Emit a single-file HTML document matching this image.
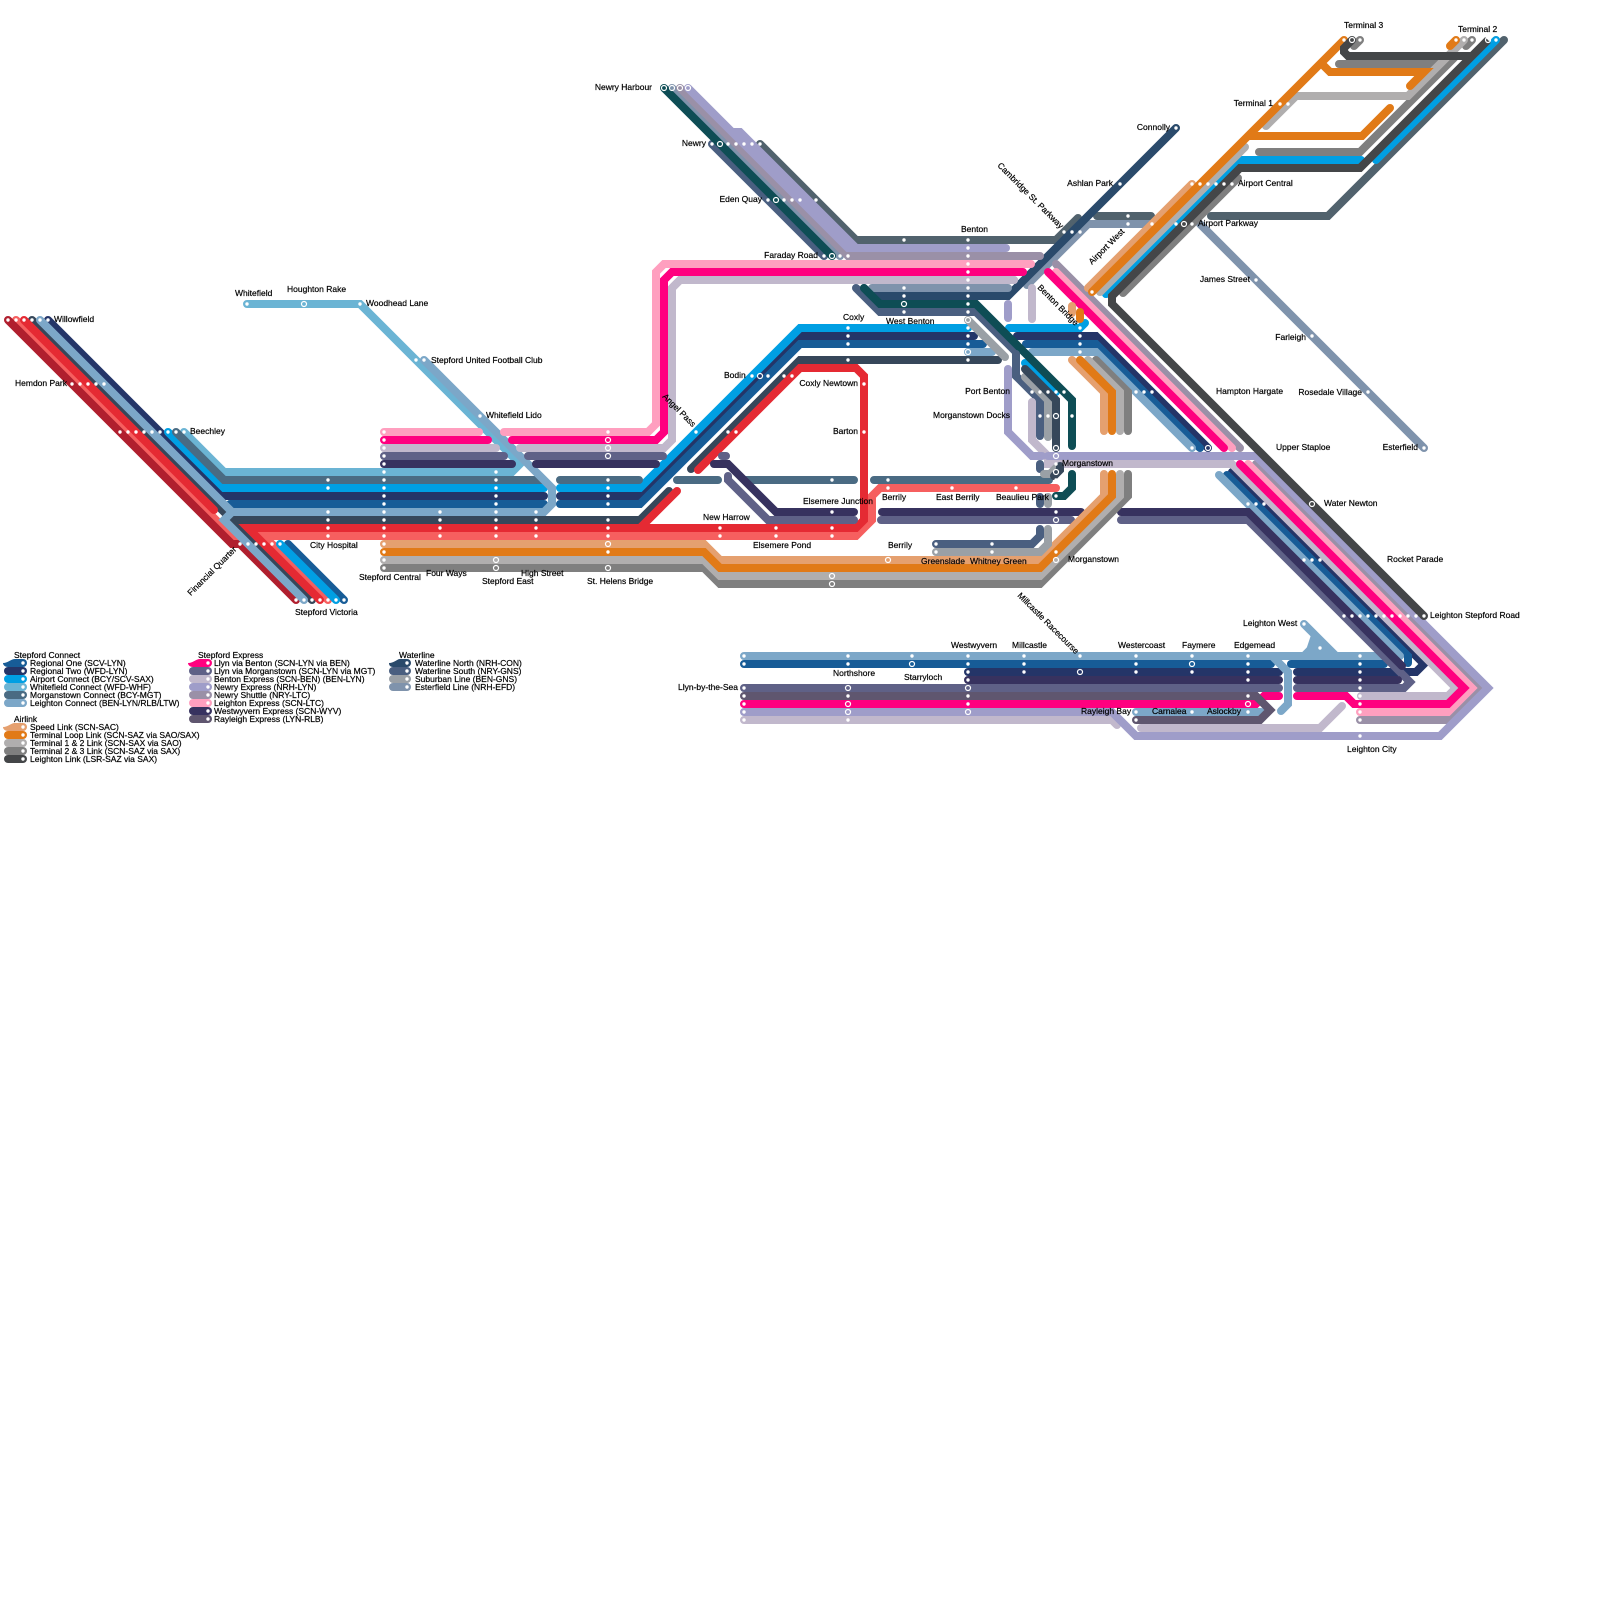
<!DOCTYPE html>
<html lang="en"><head><meta charset="utf-8"><title>Transit map</title>
<style>
html,body{margin:0;padding:0;background:#fff}
svg{display:block}
.l path{fill:none;stroke-width:8;stroke-linecap:round;stroke-linejoin:miter;stroke-miterlimit:4}
text{font-family:"Liberation Sans",sans-serif;font-size:8.5px;fill:#000;stroke:#000;stroke-width:.2}
</style></head><body>
<svg width="1600" height="1600" viewBox="0 0 1600 1600" xmlns="http://www.w3.org/2000/svg">
<rect width="1600" height="1600" fill="#fff"/>
<polygon points="1312,632 1336,656 1304,656" fill="#7ca7c8"/>
<g class="l">
<path stroke="#51626d" d="M760 144L856 240L1056 240L1078 218M1097 216L1151 216M1211 216L1328 216L1504 40"/>
<path stroke="#4a5f80" d="M712 144L824 256M856 288L880 312L976 312L1016 352L1016 376L1032 392L1040 400L1040 436M1040 464L1040 469M1040 497L1040 504M936 544L1032 544L1040 536L1040 529"/>
<path stroke="#7f93ac" d="M672 88L840 256M1027 285L1088 224L1152 224M1200 224L1424 448"/>
<path stroke="#2a4a6b" d="M864 288L872 296L1008 296L1176 128"/>
<path stroke="#7f93ac" d="M872 288L1008 288"/>
<path stroke="#0e4d55" d="M664 88L832 256"/>
<path stroke="#9a90a7" d="M680 88L848 256L1040 256"/>
<path stroke="#9f9dc9" d="M688 88L848 248L1006 248M732 132L740 132L856 248"/>
<path stroke="#f65f5f" d="M16 320L240 544M328 600L264 536L856 536L872 520L872 496L880 488L1056 488"/>
<path stroke="#36475a" d="M32 320L312 600M232 520L640 520L669 491M691 469L800 360L998 360"/>
<path stroke="#243568" d="M48 320L224 496L544 496M560 496L640 496L800 336L974 336M1017 336L1096 336L1208 448M1232 472L1424 664L1416 672L1297 672M1279 672L968 672"/>
<path stroke="#b01f2e" d="M8 320L232 544L240 544L296 600"/>
<path stroke="#e52a33" d="M24 320L214 510M320 600L248 528L856 528L864 520L864 376L856 368L800 368L698 470M677 491L640 528"/>
<path stroke="#175c97" d="M230 504L544 504M560 504L640 504L800 344L983 344M1026 344L1096 344L1200 448M1227 475L1408 656L1408 663M344 600L288 544M744 664L1271 664M1291 664L1384 664"/>
<path stroke="#009fe3" d="M168 432L224 488L544 488M560 488L640 488L800 328L968 328M1009 328L1080 328L1085 323M1025 363L1056 392M1106 294L1240 160L1361 160M1376 160L1496 40M336 600L280 544"/>
<path stroke="#6bb4d4" d="M247 304L360 304L520 464L512 472L224 472L184 432"/>
<path stroke="#4a6b83" d="M176 432L224 480L543 480M560 480L639 480M677 480L718 480M746 480L854 480M874 480L1049 480"/>
<path stroke="#7ca7c8" d="M40 320L232 512L224 520L304 600M424 360L544 480L552 488L552 504L544 512L232 512M968 352L992 352M1032 352L1096 352L1192 448M1219 475L1400 656M744 656L1384 656M1304 624L1336 656M1304 656L1320 640M1272 656L1288 672L1288 704L1281 711M1136 712L1261 712"/>
<path stroke="#c1b8cc" d="M384 448L496 448M520 448L664 448L672 440L672 288L680 280L1014 280M1032 288L1032 319M1032 402L1032 440L1048 456L1048 464L1232 464L1456 688L1448 696L1361 696M1342 706L1320 728L1141 728M1117 725L1112 720L744 720"/>
<path stroke="#5f6187" d="M384 456L504 456M528 456L663 456M722 456L726 456M728 476L728 480L768 520L854 520M881 520L1071 520M1121 520L1248 520L1410 682L1404 688L1297 688M1279 688L744 688"/>
<path stroke="#37325f" d="M384 464L512 464M536 464L656 464M714 464L728 464L776 512L854 512M882 512L1081 512M1121 512L1248 512L1402 666M1297 680L1398 680M1279 680L968 680"/>
<path stroke="#9a90a7" d="M1056 264L1240 448M1256 464L1480 688L1448 720L1360 720"/>
<path stroke="#9f9dc9" d="M1008 304L1008 318M1008 369L1008 432L1032 456L1042 456M1048 456L1256 456L1488 688L1440 736L1136 736L1112 712L744 712"/>
<path stroke="#ff9fbf" d="M384 432L479 432M504 432L648 432L656 424L656 272L664 264L1031 264M1056 272L1232 448M1248 464L1472 688L1448 712L1360 712"/>
<path stroke="#ff007f" d="M384 440L488 440M512 440L656 440L664 432L664 280L672 272L1023 272M1048 272L1224 448M1240 464L1464 688L1448 704L1354 704L1346 696L1297 696M1279 696L1264 696L1256 704L744 704"/>
<path stroke="#5f566f" d="M744 696L1256 696L1270 710L1260 720L1136 720"/>
<path stroke="#c1b8cc" d="M672 288L680 280L1014 280"/>
<path stroke="#e5a06f" d="M384 544L704 544L720 560L1040 560L1104 496L1104 474M1072 360L1104 392L1104 431M1072 306L1072 313M1088 288L1192 184"/>
<path stroke="#009fe3" d="M1106 294L1216 184"/>
<path stroke="#7f7f7f" d="M384 568L704 568L720 584L1040 584L1128 496L1128 474M1096 360L1128 392L1128 431M1123 293L1238 178M1259 152L1360 152L1448 64L1339 64M1360 40L1354 46M1472 40L1466 46"/>
<path stroke="#b0aeae" d="M384 560L704 560L720 576L1040 576L1120 496L1120 474M1088 360L1120 392L1120 431M1100 292L1245 147M1266 126L1296 96L1408 96L1464 40"/>
<path stroke="#e17a17" d="M384 552L704 552L720 568L1040 568L1112 496L1112 474M1080 360L1112 392L1112 431M1080 312L1080 319M1092 292L1344 40M1248 136L1362 136L1390 108M1410 86L1424 72L1330 72L1322 64M1456 40L1450 46"/>
<path stroke="#444648" d="M1352 40L1344 48L1344 52L1348 56L1472 56L1488 40L1360 168L1240 168L1112 296L1112 304L1424 616"/>
<path stroke="#9aa0a6" d="M968 320L1005 357M1025 377L1048 400L1048 437M1044 474L1050 474L1056 468M1048 497L1048 504M936 552L1040 552L1048 544L1048 529"/>
<path stroke="#36475a" d="M1025 369L1048 392L1056 400L1056 448M1060 466L1060 470L1054 476"/>
<path stroke="#0e4d55" d="M864 288L880 304L976 304L1064 392L1072 400L1072 446M1072 474L1072 488L1064 496L1056 496"/>
<path stroke="#4a5f80" d="M1016 354L1016 376"/>
</g>
<g fill="#fff">
<circle cx="8" cy="320" r="1.7"/><circle cx="16" cy="320" r="1.7"/><circle cx="24" cy="320" r="1.7"/><circle cx="32" cy="320" r="1.7"/><circle cx="40" cy="320" r="1.7"/><circle cx="48" cy="320" r="1.7"/>
<circle cx="72" cy="384" r="1.7"/><circle cx="80" cy="384" r="1.7"/><circle cx="88" cy="384" r="1.7"/><circle cx="96" cy="384" r="1.7"/><circle cx="104" cy="384" r="1.7"/>
<circle cx="120" cy="432" r="1.7"/><circle cx="128" cy="432" r="1.7"/><circle cx="136" cy="432" r="1.7"/><circle cx="144" cy="432" r="1.7"/><circle cx="152" cy="432" r="1.7"/><circle cx="160" cy="432" r="1.7"/><circle cx="168" cy="432" r="1.7"/><circle cx="176" cy="432" r="1.7"/><circle cx="184" cy="432" r="1.7"/>
<circle cx="240" cy="544" r="1.7"/><circle cx="248" cy="544" r="1.7"/><circle cx="256" cy="544" r="1.7"/><circle cx="264" cy="544" r="1.7"/><circle cx="272" cy="544" r="1.7"/><circle cx="280" cy="544" r="1.7"/>
<circle cx="296" cy="600" r="1.7"/><circle cx="304" cy="600" r="1.7"/><circle cx="312" cy="600" r="1.7"/><circle cx="320" cy="600" r="1.7"/><circle cx="328" cy="600" r="1.7"/><circle cx="336" cy="600" r="1.7"/><circle cx="344" cy="600" r="1.7"/>
<circle cx="247" cy="304" r="1.7"/><circle cx="360" cy="304" r="1.7"/><circle cx="416" cy="360" r="1.7"/><circle cx="424" cy="360" r="1.7"/><circle cx="480" cy="416" r="1.7"/>
<circle cx="328" cy="480" r="1.7"/><circle cx="328" cy="488" r="1.7"/><circle cx="328" cy="512" r="1.7"/><circle cx="328" cy="520" r="1.7"/><circle cx="328" cy="528" r="1.7"/><circle cx="328" cy="536" r="1.7"/>
<circle cx="384" cy="432" r="1.7"/><circle cx="384" cy="440" r="1.7"/><circle cx="384" cy="448" r="1.7"/><circle cx="384" cy="456" r="1.7"/><circle cx="384" cy="464" r="1.7"/><circle cx="384" cy="472" r="1.7"/><circle cx="384" cy="480" r="1.7"/><circle cx="384" cy="488" r="1.7"/><circle cx="384" cy="496" r="1.7"/><circle cx="384" cy="504" r="1.7"/><circle cx="384" cy="512" r="1.7"/><circle cx="384" cy="520" r="1.7"/><circle cx="384" cy="528" r="1.7"/><circle cx="384" cy="536" r="1.7"/><circle cx="384" cy="544" r="1.7"/><circle cx="384" cy="552" r="1.7"/><circle cx="384" cy="560" r="1.7"/><circle cx="384" cy="568" r="1.7"/>
<circle cx="440" cy="512" r="1.7"/><circle cx="440" cy="520" r="1.7"/><circle cx="440" cy="528" r="1.7"/><circle cx="440" cy="536" r="1.7"/>
<circle cx="536" cy="512" r="1.7"/><circle cx="536" cy="520" r="1.7"/><circle cx="536" cy="528" r="1.7"/><circle cx="536" cy="536" r="1.7"/>
<circle cx="496" cy="472" r="1.7"/><circle cx="496" cy="480" r="1.7"/><circle cx="496" cy="488" r="1.7"/><circle cx="496" cy="496" r="1.7"/><circle cx="496" cy="504" r="1.7"/><circle cx="496" cy="512" r="1.7"/><circle cx="496" cy="520" r="1.7"/><circle cx="496" cy="528" r="1.7"/><circle cx="496" cy="536" r="1.7"/>
<circle cx="608" cy="432" r="1.7"/><circle cx="608" cy="480" r="1.7"/><circle cx="608" cy="488" r="1.7"/><circle cx="608" cy="496" r="1.7"/><circle cx="608" cy="504" r="1.7"/><circle cx="608" cy="520" r="1.7"/><circle cx="608" cy="528" r="1.7"/><circle cx="608" cy="536" r="1.7"/><circle cx="608" cy="552" r="1.7"/>
<circle cx="696" cy="432" r="1.7"/><circle cx="728" cy="432" r="1.7"/><circle cx="736" cy="432" r="1.7"/>
<circle cx="752" cy="376" r="1.7"/><circle cx="768" cy="376" r="1.7"/><circle cx="784" cy="376" r="1.7"/><circle cx="792" cy="376" r="1.7"/>
<circle cx="712" cy="144" r="1.7"/><circle cx="728" cy="144" r="1.7"/><circle cx="736" cy="144" r="1.7"/><circle cx="744" cy="144" r="1.7"/><circle cx="752" cy="144" r="1.7"/><circle cx="760" cy="144" r="1.7"/>
<circle cx="768" cy="200" r="1.7"/><circle cx="784" cy="200" r="1.7"/><circle cx="792" cy="200" r="1.7"/><circle cx="800" cy="200" r="1.7"/><circle cx="816" cy="200" r="1.7"/>
<circle cx="824" cy="256" r="1.7"/><circle cx="840" cy="256" r="1.7"/><circle cx="848" cy="256" r="1.7"/>
<circle cx="968" cy="240" r="1.7"/><circle cx="968" cy="248" r="1.7"/><circle cx="968" cy="256" r="1.7"/><circle cx="968" cy="264" r="1.7"/><circle cx="968" cy="272" r="1.7"/><circle cx="968" cy="280" r="1.7"/><circle cx="968" cy="288" r="1.7"/><circle cx="968" cy="296" r="1.7"/><circle cx="968" cy="304" r="1.7"/><circle cx="968" cy="312" r="1.7"/><circle cx="968" cy="328" r="1.7"/><circle cx="968" cy="336" r="1.7"/><circle cx="968" cy="344" r="1.7"/><circle cx="968" cy="360" r="1.7"/>
<circle cx="904" cy="240" r="1.7"/><circle cx="904" cy="288" r="1.7"/><circle cx="904" cy="296" r="1.7"/><circle cx="904" cy="312" r="1.7"/>
<circle cx="848" cy="328" r="1.7"/><circle cx="848" cy="336" r="1.7"/><circle cx="848" cy="344" r="1.7"/><circle cx="848" cy="360" r="1.7"/>
<circle cx="1080" cy="328" r="1.7"/><circle cx="1080" cy="336" r="1.7"/><circle cx="1080" cy="344" r="1.7"/><circle cx="1080" cy="352" r="1.7"/>
<circle cx="1032" cy="392" r="1.7"/><circle cx="1040" cy="392" r="1.7"/><circle cx="1048" cy="392" r="1.7"/><circle cx="1056" cy="392" r="1.7"/><circle cx="1064" cy="392" r="1.7"/><circle cx="1136" cy="392" r="1.7"/><circle cx="1144" cy="392" r="1.7"/><circle cx="1152" cy="392" r="1.7"/>
<circle cx="1040" cy="416" r="1.7"/><circle cx="1048" cy="416" r="1.7"/><circle cx="1072" cy="416" r="1.7"/>
<circle cx="1056" cy="464" r="1.7"/><circle cx="1056" cy="480" r="1.7"/><circle cx="1056" cy="496" r="1.7"/><circle cx="1056" cy="512" r="1.7"/><circle cx="1056" cy="552" r="1.7"/>
<circle cx="1192" cy="448" r="1.7"/>
<circle cx="1248" cy="504" r="1.7"/><circle cx="1256" cy="504" r="1.7"/><circle cx="1264" cy="504" r="1.7"/>
<circle cx="1304" cy="560" r="1.7"/><circle cx="1312" cy="560" r="1.7"/><circle cx="1320" cy="560" r="1.7"/>
<circle cx="1344" cy="616" r="1.7"/><circle cx="1352" cy="616" r="1.7"/><circle cx="1360" cy="616" r="1.7"/><circle cx="1368" cy="616" r="1.7"/><circle cx="1376" cy="616" r="1.7"/><circle cx="1384" cy="616" r="1.7"/><circle cx="1392" cy="616" r="1.7"/><circle cx="1400" cy="616" r="1.7"/><circle cx="1408" cy="616" r="1.7"/><circle cx="1416" cy="616" r="1.7"/><circle cx="1424" cy="616" r="1.7"/>
<circle cx="1424" cy="448" r="1.7"/><circle cx="1368" cy="392" r="1.7"/><circle cx="1312" cy="336" r="1.7"/><circle cx="1256" cy="280" r="1.7"/><circle cx="1192" cy="224" r="1.7"/><circle cx="1176" cy="224" r="1.7"/><circle cx="1152" cy="224" r="1.7"/>
<circle cx="1192" cy="184" r="1.7"/><circle cx="1200" cy="184" r="1.7"/><circle cx="1208" cy="184" r="1.7"/><circle cx="1216" cy="184" r="1.7"/><circle cx="1224" cy="184" r="1.7"/><circle cx="1232" cy="184" r="1.7"/>
<circle cx="1120" cy="184" r="1.7"/><circle cx="1176" cy="128" r="1.7"/><circle cx="1128" cy="216" r="1.7"/><circle cx="1128" cy="224" r="1.7"/><circle cx="1064" cy="232" r="1.7"/><circle cx="1072" cy="232" r="1.7"/><circle cx="1080" cy="232" r="1.7"/>
<circle cx="1280" cy="104" r="1.7"/><circle cx="1288" cy="104" r="1.7"/><circle cx="1092" cy="292" r="1.7"/>
<circle cx="1344" cy="40" r="1.7"/><circle cx="1360" cy="40" r="1.7"/><circle cx="1456" cy="40" r="1.7"/><circle cx="1464" cy="40" r="1.7"/><circle cx="1472" cy="40" r="1.7"/><circle cx="1496" cy="40" r="1.7"/>
<circle cx="1304" cy="624" r="1.7"/><circle cx="1320" cy="648" r="1.7"/>
<circle cx="744" cy="656" r="1.7"/><circle cx="744" cy="664" r="1.7"/><circle cx="744" cy="688" r="1.7"/><circle cx="744" cy="696" r="1.7"/><circle cx="744" cy="704" r="1.7"/><circle cx="744" cy="712" r="1.7"/><circle cx="744" cy="720" r="1.7"/>
<circle cx="848" cy="656" r="1.7"/><circle cx="848" cy="664" r="1.7"/><circle cx="848" cy="696" r="1.7"/><circle cx="848" cy="720" r="1.7"/>
<circle cx="912" cy="656" r="1.7"/>
<circle cx="968" cy="656" r="1.7"/><circle cx="968" cy="664" r="1.7"/><circle cx="968" cy="672" r="1.7"/><circle cx="968" cy="680" r="1.7"/><circle cx="968" cy="696" r="1.7"/><circle cx="968" cy="704" r="1.7"/>
<circle cx="1024" cy="656" r="1.7"/><circle cx="1024" cy="664" r="1.7"/><circle cx="1024" cy="672" r="1.7"/>
<circle cx="1080" cy="656" r="1.7"/>
<circle cx="1136" cy="656" r="1.7"/><circle cx="1136" cy="664" r="1.7"/><circle cx="1136" cy="672" r="1.7"/>
<circle cx="1192" cy="656" r="1.7"/><circle cx="1192" cy="672" r="1.7"/>
<circle cx="1248" cy="656" r="1.7"/><circle cx="1248" cy="664" r="1.7"/><circle cx="1248" cy="672" r="1.7"/><circle cx="1248" cy="680" r="1.7"/><circle cx="1248" cy="696" r="1.7"/><circle cx="1248" cy="712" r="1.7"/>
<circle cx="1360" cy="656" r="1.7"/><circle cx="1360" cy="664" r="1.7"/><circle cx="1360" cy="672" r="1.7"/><circle cx="1360" cy="680" r="1.7"/><circle cx="1360" cy="688" r="1.7"/><circle cx="1360" cy="696" r="1.7"/><circle cx="1360" cy="704" r="1.7"/><circle cx="1360" cy="712" r="1.7"/><circle cx="1360" cy="720" r="1.7"/><circle cx="1360" cy="736" r="1.7"/>
<circle cx="1136" cy="712" r="1.7"/><circle cx="1136" cy="720" r="1.7"/><circle cx="1192" cy="712" r="1.7"/>
<circle cx="864" cy="384" r="1.7"/><circle cx="864" cy="432" r="1.7"/>
<circle cx="832" cy="480" r="1.7"/><circle cx="832" cy="512" r="1.7"/><circle cx="832" cy="528" r="1.7"/><circle cx="832" cy="536" r="1.7"/>
<circle cx="776" cy="528" r="1.7"/><circle cx="776" cy="536" r="1.7"/><circle cx="720" cy="528" r="1.7"/><circle cx="720" cy="536" r="1.7"/>
<circle cx="888" cy="480" r="1.7"/><circle cx="888" cy="488" r="1.7"/><circle cx="952" cy="488" r="1.7"/><circle cx="1016" cy="488" r="1.7"/>
<circle cx="936" cy="544" r="1.7"/><circle cx="936" cy="552" r="1.7"/><circle cx="992" cy="544" r="1.7"/><circle cx="992" cy="552" r="1.7"/>
</g>
<g fill="none" stroke="#fff" stroke-width="1.2">
<circle cx="304" cy="304" r="2.5"/><circle cx="760" cy="376" r="2.5"/>
<circle cx="496" cy="560" r="2.5"/><circle cx="496" cy="568" r="2.5"/>
<circle cx="608" cy="440" r="2.5"/><circle cx="608" cy="448" r="2.5"/><circle cx="608" cy="456" r="2.5"/><circle cx="608" cy="544" r="2.5"/><circle cx="608" cy="568" r="2.5"/>
<circle cx="664" cy="88" r="2.5"/><circle cx="672" cy="88" r="2.5"/><circle cx="680" cy="88" r="2.5"/><circle cx="688" cy="88" r="2.5"/>
<circle cx="720" cy="144" r="2.5"/><circle cx="776" cy="200" r="2.5"/><circle cx="832" cy="256" r="2.5"/>
<circle cx="904" cy="304" r="2.5"/><circle cx="968" cy="320" r="2.5"/><circle cx="968" cy="352" r="2.5"/>
<circle cx="1056" cy="416" r="2.5"/><circle cx="1056" cy="448" r="2.5"/><circle cx="1056" cy="456" r="2.5"/><circle cx="1056" cy="472" r="2.5"/><circle cx="1056" cy="520" r="2.5"/><circle cx="1056" cy="560" r="2.5"/>
<circle cx="1208" cy="448" r="2.5"/><circle cx="1312" cy="504" r="2.5"/><circle cx="1184" cy="224" r="2.5"/><circle cx="1352" cy="40" r="2.5"/><circle cx="1488" cy="40" r="2.5"/>
<circle cx="848" cy="688" r="2.5"/><circle cx="848" cy="704" r="2.5"/><circle cx="848" cy="712" r="2.5"/><circle cx="912" cy="664" r="2.5"/>
<circle cx="968" cy="688" r="2.5"/><circle cx="968" cy="712" r="2.5"/><circle cx="1080" cy="672" r="2.5"/><circle cx="1192" cy="664" r="2.5"/><circle cx="1248" cy="704" r="2.5"/>
<circle cx="888" cy="560" r="2.5"/><circle cx="832" cy="576" r="2.5"/><circle cx="832" cy="584" r="2.5"/>
</g>
<g>
<text x="235" y="296">Whitefield</text><text x="287" y="292">Houghton Rake</text><text x="366" y="306">Woodhead Lane</text>
<text x="54" y="322">Willowfield</text><text x="15" y="386">Hemdon Park</text><text x="190" y="434">Beechley</text>
<text x="310" y="548">City Hospital</text><text x="359" y="580">Stepford Central</text><text x="426" y="576">Four Ways</text><text x="482" y="584">Stepford East</text><text x="521" y="576">High Street</text><text x="587" y="584">St. Helens Bridge</text><text x="295" y="615">Stepford Victoria</text>
<text transform="translate(237 550) rotate(-45)" text-anchor="end">Financial Quarter</text>
<text x="431" y="363">Stepford United Football Club</text><text x="486" y="418">Whitefield Lido</text>
<text transform="translate(662 397) rotate(45)">Angel Pass</text>
<text x="652" y="90" text-anchor="end">Newry Harbour</text><text x="706" y="146" text-anchor="end">Newry</text><text x="762" y="202" text-anchor="end">Eden Quay</text><text x="818" y="258" text-anchor="end">Faraday Road</text>
<text x="961" y="232">Benton</text><text x="843" y="320">Coxly</text><text x="886" y="324">West Benton</text>
<text transform="translate(997 166) rotate(45)">Cambridge St. Parkway</text>
<text x="1113" y="186" text-anchor="end">Ashlan Park</text><text x="1170" y="130" text-anchor="end">Connolly</text>
<text transform="translate(1092 265) rotate(-45)">Airport West</text>
<text transform="translate(1037 288) rotate(45)">Benton Bridge</text>
<text x="1273" y="106" text-anchor="end">Terminal 1</text><text x="1344" y="28">Terminal 3</text><text x="1458" y="32">Terminal 2</text>
<text x="1238" y="186">Airport Central</text><text x="1198" y="226">Airport Parkway</text><text x="1250" y="282" text-anchor="end">James Street</text>
<text x="1306" y="340" text-anchor="end">Farleigh</text><text x="1362" y="395" text-anchor="end">Rosedale Village</text><text x="1418" y="450" text-anchor="end">Esterfield</text>
<text x="1216" y="394">Hampton Hargate</text><text x="1276" y="450">Upper Staploe</text><text x="1324" y="506">Water Newton</text><text x="1387" y="562">Rocket Parade</text><text x="1430" y="618">Leighton Stepford Road</text>
<text x="1243" y="626">Leighton West</text><text x="1234" y="648">Edgemead</text><text x="1182" y="648">Faymere</text><text x="1118" y="648">Westercoast</text><text x="1012" y="648">Millcastle</text><text x="951" y="648">Westwyvern</text>
<text x="833" y="676">Northshore</text><text x="904" y="680">Starryloch</text><text x="738" y="690" text-anchor="end">Llyn-by-the-Sea</text>
<text x="1081" y="714">Rayleigh Bay</text><text x="1152" y="714">Carnalea</text><text x="1207" y="714">Aslockby</text><text x="1347" y="752">Leighton City</text>
<text transform="translate(1017 596) rotate(45)">Millcastle Racecourse</text>
<text x="1062" y="466">Morganstown</text><text x="1068" y="562">Morganstown</text>
<text x="1010" y="394" text-anchor="end">Port Benton</text><text x="1010" y="418" text-anchor="end">Morganstown Docks</text>
<text x="858" y="386" text-anchor="end">Coxly Newtown</text><text x="858" y="434" text-anchor="end">Barton</text><text x="724" y="378">Bodin</text><text x="703" y="520">New Harrow</text><text x="803" y="504">Elsemere Junction</text><text x="753" y="548">Elsemere Pond</text>
<text x="882" y="500">Berrily</text><text x="936" y="500">East Berrily</text><text x="996" y="500">Beaulieu Park</text><text x="888" y="548">Berrily</text><text x="921" y="564">Greenslade</text><text x="970" y="564">Whitney Green</text>
</g>
<g class="l">
<path stroke="#175c97" d="M16 663L23 663"/><path stroke="#243568" d="M8 671L23 671"/><path stroke="#009fe3" d="M8 679L23 679"/><path stroke="#6bb4d4" d="M8 687L23 687"/><path stroke="#4a6b83" d="M8 695L23 695"/><path stroke="#7ca7c8" d="M8 703L23 703"/>
<path stroke="#e5a06f" d="M16 727L23 727"/><path stroke="#e17a17" d="M8 735L23 735"/><path stroke="#b0aeae" d="M8 743L23 743"/><path stroke="#7f7f7f" d="M8 751L23 751"/><path stroke="#444648" d="M8 759L23 759"/>
<path stroke="#ff007f" d="M201 663L208 663"/><path stroke="#5f6187" d="M193 671L208 671"/><path stroke="#c1b8cc" d="M193 679L208 679"/><path stroke="#9f9dc9" d="M193 687L208 687"/><path stroke="#9a90a7" d="M193 695L208 695"/><path stroke="#ff9fbf" d="M193 703L208 703"/><path stroke="#37325f" d="M193 711L208 711"/><path stroke="#5f566f" d="M193 719L208 719"/>
<path stroke="#2a4a6b" d="M400 663L407 663"/><path stroke="#4a5f80" d="M393 671L407 671"/><path stroke="#9aa0a6" d="M393 679L407 679"/><path stroke="#7f93ac" d="M393 687L407 687"/>
</g>
<path fill="#175c97" d="M3 663C8 663 11 659 15 659L20 659L20 667L8 667C5 667 3 665 3 663Z"/>
<path fill="#e5a06f" d="M3 727C8 727 11 723 15 723L20 723L20 731L8 731C5 731 3 729 3 727Z"/>
<path fill="#ff007f" d="M188 663C193 663 196 659 200 659L205 659L205 667L193 667C190 667 188 665 188 663Z"/>
<path fill="#2a4a6b" d="M389 663C394 663 397 659 401 659L405 659L405 667L393 667C390 667 389 665 389 663Z"/>
<g fill="#fff">
<circle cx="23" cy="663" r="1.7"/><circle cx="23" cy="671" r="1.7"/><circle cx="23" cy="679" r="1.7"/><circle cx="23" cy="687" r="1.7"/><circle cx="23" cy="695" r="1.7"/><circle cx="23" cy="703" r="1.7"/>
<circle cx="23" cy="727" r="1.7"/><circle cx="23" cy="735" r="1.7"/><circle cx="23" cy="743" r="1.7"/><circle cx="23" cy="751" r="1.7"/><circle cx="23" cy="759" r="1.7"/>
<circle cx="208" cy="663" r="1.7"/><circle cx="208" cy="671" r="1.7"/><circle cx="208" cy="679" r="1.7"/><circle cx="208" cy="687" r="1.7"/><circle cx="208" cy="695" r="1.7"/><circle cx="208" cy="703" r="1.7"/><circle cx="208" cy="711" r="1.7"/><circle cx="208" cy="719" r="1.7"/>
<circle cx="407" cy="663" r="1.7"/><circle cx="407" cy="671" r="1.7"/><circle cx="407" cy="679" r="1.7"/><circle cx="407" cy="687" r="1.7"/>
</g>
<g>
<text x="14" y="658">Stepford Connect</text>
<text x="30" y="666">Regional One (SCV-LYN)</text><text x="30" y="674">Regional Two (WFD-LYN)</text><text x="30" y="682">Airport Connect (BCY/SCV-SAX)</text><text x="30" y="690">Whitefield Connect (WFD-WHF)</text><text x="30" y="698">Morganstown Connect (BCY-MGT)</text><text x="30" y="706">Leighton Connect (BEN-LYN/RLB/LTW)</text>
<text x="14" y="722">Airlink</text>
<text x="30" y="730">Speed Link (SCN-SAC)</text><text x="30" y="738">Terminal Loop Link (SCN-SAZ via SAO/SAX)</text><text x="30" y="746">Terminal 1 &amp; 2 Link (SCN-SAX via SAO)</text><text x="30" y="754">Terminal 2 &amp; 3 Link (SCN-SAZ via SAX)</text><text x="30" y="762">Leighton Link (LSR-SAZ via SAX)</text>
<text x="198" y="658">Stepford Express</text>
<text x="214" y="666">Llyn via Benton (SCN-LYN via BEN)</text><text x="214" y="674">Llyn via Morganstown (SCN-LYN via MGT)</text><text x="214" y="682">Benton Express (SCN-BEN) (BEN-LYN)</text><text x="214" y="690">Newry Express (NRH-LYN)</text><text x="214" y="698">Newry Shuttle (NRY-LTC)</text><text x="214" y="706">Leighton Express (SCN-LTC)</text><text x="214" y="714">Westwyvern Express (SCN-WYV)</text><text x="214" y="722">Rayleigh Express (LYN-RLB)</text>
<text x="399" y="658">Waterline</text>
<text x="415" y="666">Waterline North (NRH-CON)</text><text x="415" y="674">Waterline South (NRY-GNS)</text><text x="415" y="682">Suburban Line (BEN-GNS)</text><text x="415" y="690">Esterfield Line (NRH-EFD)</text>
</g>
</svg>
</body></html>
